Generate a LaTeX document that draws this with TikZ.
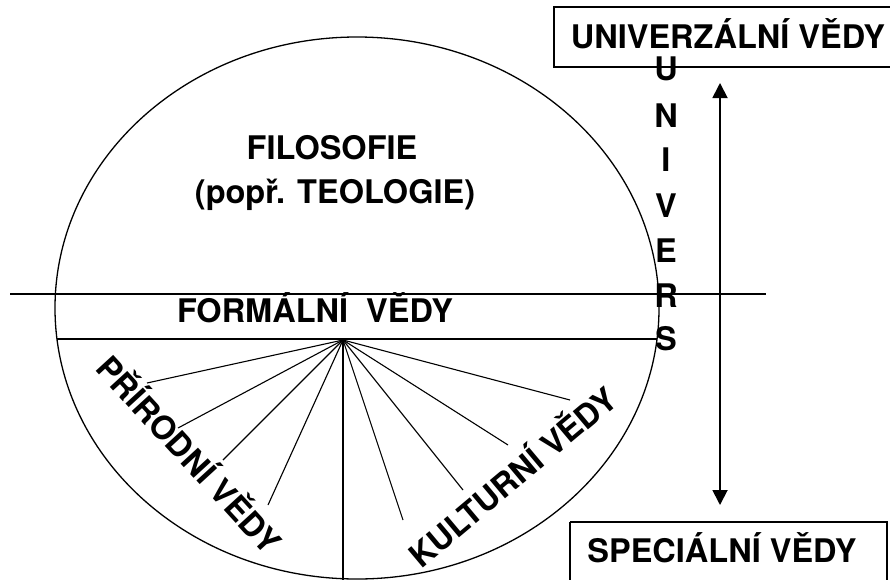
\documentclass[tikz,border=0pt]{standalone}
\usepackage{fontspec}
\setmainfont{TeX Gyre Heros}
\usetikzlibrary{arrows.meta}
\begin{document}
\begin{tikzpicture}[x=1pt,y=-1pt,
  lbl/.style={font=\bfseries\fontsize{32.5}{38}\selectfont, inner sep=0pt},
  thinline/.style={line width=1.1pt},
  boxline/.style={line width=1.4pt},
  ray/.style={line width=1.1pt}]
\useasboundingbox (0,0) rectangle (890,579);
% ellipse
\draw[line width=1.3pt] (357,308) ellipse [x radius=302, y radius=271];
% horizontal lines
\coordinate (h1a) at (10,294); \coordinate (h1b) at (766,294);
\coordinate (h2a) at (57,339); \coordinate (h2b) at (657,339);
\draw[thinline] (h1a) -- (h1b);
\draw[thinline] (h2a) -- (h2b);
% fan
\coordinate (fc) at (343,340);
\coordinate (r1) at (147,383);
\coordinate (r2) at (178,428);
\coordinate (r3) at (223,460);
\coordinate (r4) at (268,505);
\coordinate (r5) at (343,585);
\coordinate (r6) at (403,520);
\coordinate (r7) at (463,490);
\coordinate (r8) at (508,445);
\coordinate (r9) at (570,400);
\foreach \r in {r1,r2,r3,r4,r6,r7,r8,r9} \draw[ray] (fc) -- (\r);
\draw[line width=1.4pt] (fc) -- (r5);
% texts
\node[lbl, anchor=base] (fil) at (332,159) {FILOSOFIE};
\node[lbl, anchor=base] (teo) at (335,203) {(popř. TEOLOGIE)};
\node[lbl, anchor=base] (form) at (315,322) {FORMÁLNÍ\ \ VĚDY};
\node[lbl, rotate=-47.5] (pri) at (191,453) {PŘÍRODNÍ VĚDY};
\node[lbl, rotate=40] (kul) at (511,475) {KULTURNÍ VĚDY};
% boxes
\draw[boxline] (554,7) rectangle (891,67);
\node[lbl, anchor=base] (univ) at (728,48) {UNIVERZÁLNÍ VĚDY};
\draw[boxline] (570,522) -- (570,590) (570,522) -- (887,522) -- (887,590);
\node[lbl, anchor=base] (spec) at (722,562) {SPECIÁLNÍ VĚDY};
% vertical word
\foreach \ch/\yy [count=\i] in {U/80,N/127,I/171,V/217,E/262,R/307,S/350}
  \node[lbl, anchor=base] (v\i) at (666,\yy) {\ch};
% arrow
\coordinate (at) at (720,83);
\coordinate (ab) at (720,505);
\draw[line width=1.8pt, {Triangle[length=15pt,width=15pt]}-{Triangle[length=15pt,width=15pt]}] (at) -- (ab);
\end{tikzpicture}
\end{document}
